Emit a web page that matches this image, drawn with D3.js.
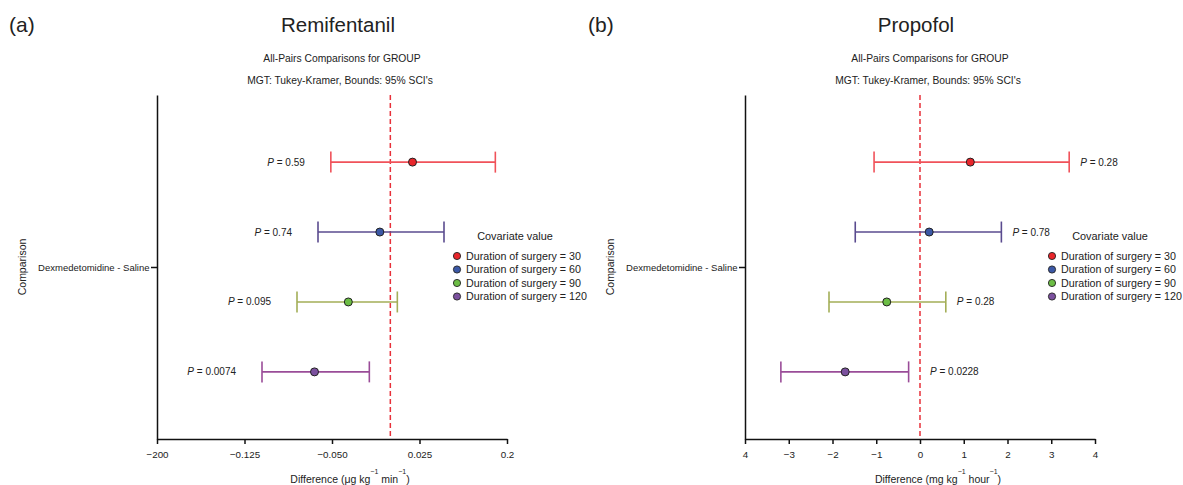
<!DOCTYPE html>
<html>
<head>
<meta charset="utf-8">
<script src="https://cdn.jsdelivr.net/npm/d3@7"></script>
<style>
	body { margin: 0; background: #fff; }
	svg { display: block; font-family: 'Liberation Sans', Arial, sans-serif; }
	text { fill: #222; }
</style>
</head>
<body>
<svg id="chart" width="1183" height="485"></svg>
<script>
const comparison = 'Dexmedetomidine - Saline'
const covariates = ['Duration of surgery = 30', 'Duration of surgery = 60', 'Duration of surgery = 90', 'Duration of surgery = 120']

// remifentanil (a)
const remiEst = [0.019, -0.009, -0.036, -0.065]
const remiLow = [-0.051, -0.062, -0.080, -0.110]
const remiHigh = [0.090, 0.046, 0.006, -0.018]
const remiP = ['0.59', '0.74', '0.095', '0.0074']
const remiTicks = [-0.2, -0.125, -0.05, 0.025, 0.1]
const remiTickLabels = ['\u2212200', '\u22120.125', '\u22120.050', '0.025', '0.2']

// propofol (b)
const propEst = [1.15, 0.21, -0.76, -1.71]
const propLow = [-1.05, -1.48, -2.08, -3.18]
const propHigh = [3.41, 1.86, 0.59, -0.26]
const propP = ['0.28', '0.78', '0.28', '0.0228']
const propTicks = [-4, -3, -2, -1, 0, 1, 2, 3, 4]
const propTickLabels = ['4', '\u22123', '\u22122', '\u22121', '0', '1', '2', '3', '4']

const pointColors = ['#e8262b', '#3b58a6', '#6cbd45', '#7b509e']
const barColors = ['#f0525a', '#5a4b8f', '#a3ae57', '#9a4c98']

const svg = d3.select('#chart')
const plotTop = 95, plotBottom = 439, plotW = 350

const panels = [
	{
		letter: '(a)', letterX: 9, title: 'Remifentanil', left: 157, titleDx: 6,
		est: remiEst, low: remiLow, high: remiHigh, p: remiP,
		domain: [-0.2, 0.1], ticks: remiTicks, tickLabels: remiTickLabels,
		unit: ['Difference (\u03bcg kg', ' min', ')'], pSide: 'left', legendDx: 300,
	},
	{
		letter: '(b)', letterX: 588, title: 'Propofol', left: 745, titleDx: -4,
		est: propEst, low: propLow, high: propHigh, p: propP,
		domain: [-4, 4], ticks: propTicks, tickLabels: propTickLabels,
		unit: ['Difference (mg kg', ' hour', ')'], pSide: 'right', legendDx: 307,
	},
]

const drawPanel = (cfg) => {
	const x = d3.scaleLinear().domain(cfg.domain).range([cfg.left, cfg.left + plotW])
	const yCat = d3.scalePoint().domain([comparison]).range([plotTop, plotBottom]).padding(0.5)
	const yCov = d3.scalePoint().domain(covariates).range([plotTop, plotBottom]).padding(0.96)
	const cx = cfg.left + plotW / 2
	const g = svg.append('g')

	g.append('text').attr('x', cfg.letterX).attr('y', 32)
		.style('font-size', '21px').text(cfg.letter)
	g.append('text').attr('x', cx + cfg.titleDx).attr('y', 32)
		.attr('text-anchor', 'middle').style('font-size', '20.5px')
		.text(cfg.title)
	g.append('text').attr('x', cx + 10).attr('y', 62)
		.attr('text-anchor', 'middle').style('font-size', '10.3px')
		.text('All-Pairs Comparisons for GROUP')
	g.append('text').attr('x', cx + 8).attr('y', 84)
		.attr('text-anchor', 'middle').style('font-size', '10.3px')
		.text('MGT: Tukey-Kramer, Bounds: 95% SCI\'s')

	// axes
	const xAxis = d3.axisBottom(x).tickValues(cfg.ticks)
		.tickFormat((d, i) => cfg.tickLabels[i]).tickSize(5).tickSizeOuter(0).tickPadding(7)
	const gx = g.append('g').attr('transform', `translate(0,${plotBottom})`).call(xAxis)
	gx.selectAll('text').style('font-size', '9.8px').style('font-family', 'inherit').attr('fill', '#222')

	const yAxis = d3.axisLeft(yCat).tickSize(6).tickSizeOuter(0).tickPadding(1.5)
	const gy = g.append('g').attr('transform', `translate(${cfg.left},0)`).call(yAxis)
	gy.selectAll('text').style('font-size', '9.5px').style('font-family', 'inherit').attr('fill', '#222')

	g.selectAll('.domain, .tick line').attr('stroke', '#111').attr('stroke-width', 1.5)

	g.append('text')
		.attr('transform', `translate(${cfg.left - 131},${(plotTop + plotBottom) / 2}) rotate(-90)`)
		.attr('text-anchor', 'middle').style('font-size', '10.5px').text('Comparison')

	const xl = g.append('text').attr('x', cx + 18).attr('y', 483)
		.attr('text-anchor', 'middle').style('font-size', '10.5px')
	xl.append('tspan').text(cfg.unit[0])
	xl.append('tspan').attr('dy', -9).style('font-size', '7px').text('\u22121')
	xl.append('tspan').attr('dy', 9).text(cfg.unit[1])
	xl.append('tspan').attr('dy', -9).style('font-size', '7px').text('\u22121')
	xl.append('tspan').attr('dy', 9).text(cfg.unit[2])

	// zero reference
	g.append('line')
		.attr('x1', x(0)).attr('x2', x(0)).attr('y1', plotTop).attr('y2', plotBottom)
		.attr('stroke', '#e8303a').attr('stroke-width', 1.5).attr('stroke-dasharray', '5,3')

	const rows = covariates.map((c, i) => ({ c, i, est: cfg.est[i], low: cfg.low[i], high: cfg.high[i], p: cfg.p[i] }))
	const row = g.selectAll('g.row').data(rows).enter().append('g').attr('class', 'row')

	row.append('line')
		.attr('x1', (d) => x(d.low)).attr('x2', (d) => x(d.high))
		.attr('y1', (d) => yCov(d.c)).attr('y2', (d) => yCov(d.c))
		.attr('stroke', (d) => barColors[d.i]).attr('stroke-width', 1.6)
	row.selectAll('line.cap').data((d) => [[d, d.low], [d, d.high]]).enter().append('line')
		.attr('class', 'cap')
		.attr('x1', (d) => x(d[1])).attr('x2', (d) => x(d[1]))
		.attr('y1', (d) => yCov(d[0].c) - 10.5).attr('y2', (d) => yCov(d[0].c) + 10.5)
		.attr('stroke', (d) => barColors[d[0].i]).attr('stroke-width', 1.6)
	row.append('circle')
		.attr('cx', (d) => x(d.est)).attr('cy', (d) => yCov(d.c)).attr('r', 4)
		.attr('fill', (d) => pointColors[d.i]).attr('stroke', '#222').attr('stroke-width', 1)

	const pt = row.append('text')
		.attr('y', (d) => yCov(d.c) + 3.5).style('font-size', '10px')
	if (cfg.pSide === 'left') {
		pt.attr('x', (d) => x(d.low) - 26).attr('text-anchor', 'end')
	} else {
		pt.attr('x', (d) => Math.max(x(d.high) + 11, x(0) + 10))
	}
	pt.append('tspan').style('font-style', 'italic').text('P')
	pt.append('tspan').text((d) => ` = ${d.p}`)

	// legend
	const lx = cfg.left + cfg.legendDx
	const lg = g.append('g')
	lg.append('text').attr('x', lx + 58).attr('y', 240)
		.attr('text-anchor', 'middle').style('font-size', '10.9px').text('Covariate value')
	const li = lg.selectAll('g').data(covariates).enter().append('g')
		.attr('transform', (d, i) => `translate(${lx},${256 + i * 13.5})`)
	li.append('circle').attr('r', 3.6)
		.attr('fill', (d, i) => pointColors[i]).attr('stroke', '#222').attr('stroke-width', 0.9)
	li.append('text').attr('x', 9).attr('y', 3.8).style('font-size', '10.7px').text((d) => d)
}

panels.forEach(drawPanel)
</script>
</body>
</html>
